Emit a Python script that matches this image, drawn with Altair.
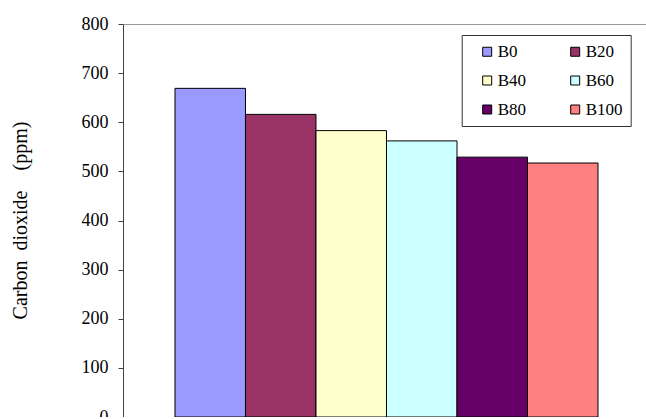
import altair as alt
import pandas as pd

categories = ["B0", "B20", "B40", "B60", "B80", "B100"]
values = [669, 616, 583, 562, 529, 517]
colors = ["#9999FF", "#993366", "#FFFFCC", "#CCFFFF", "#660066", "#FF8080"]
y_ticks = [0, 100, 200, 300, 400, 500, 600, 700, 800]
y_title = "Carbon\u00a0\u00a0dioxide\u00a0\u00a0\u00a0\u00a0(ppm)"

df = pd.DataFrame({"blend": categories, "co2": values})

FONT = "Liberation Serif"

x_scale = alt.Scale(paddingInner=0, paddingOuter=0.709, align=0.52, round=False)

y_enc = alt.Y(
    "co2:Q",
    scale=alt.Scale(domain=[0, 800], nice=False),
    axis=alt.Axis(
        values=y_ticks, grid=False, title=y_title,
        domainColor="#404040", domainWidth=1,
        tickColor="#404040", tickSize=5, tickWidth=1,
        labelFont=FONT, labelFontSize=18, labelColor="#000000", labelPadding=10,
        titleFont=FONT, titleFontSize=20, titleFontWeight="normal", titleColor="#000000",
        titleAngle=-90, titleX=-103, titleY=196, titleAlign="center", titleBaseline="middle",
    ),
)

base = alt.Chart(df)

bars = base.mark_bar(stroke="#000000", strokeWidth=1).encode(
    x=alt.X(
        "blend:N",
        sort=categories,
        scale=x_scale,
        axis=alt.Axis(labels=False, ticks=False, title=None,
                      domainColor="#404040", domainWidth=1),
    ),
    y=y_enc,
    color=alt.Color(
        "blend:N",
        sort=categories,
        scale=alt.Scale(domain=categories, range=colors),
        legend=alt.Legend(
            title=None, orient="none", legendX=338.7, legendY=11,
            columns=2, direction="horizontal",
            symbolType="square", symbolSize=81, symbolStrokeColor="#000000",
            symbolStrokeWidth=1, symbolOpacity=1,
            labelFont=FONT, labelFontSize=17, labelColor="#000000", labelOffset=2,
            labelLimit=200,
            strokeColor="#333333", fillColor="#FFFFFF", padding=8,
            symbolOffset=9, columnPadding=31, rowPadding=11,
        ),
    ),
)

top_border = base.mark_bar(opacity=0).encode(
    x=alt.X(
        "blend:N",
        sort=categories,
        scale=x_scale,
        axis=alt.Axis(orient="top", labels=False, ticks=False, title=None,
                      domainColor="#999999", domainWidth=1),
    ),
    y=y_enc,
)

chart = alt.layer(bars, top_border).resolve_axis(x="independent").properties(
    width=523,
    height=393,
    autosize=alt.AutoSizeParams(type="none"),
    padding={"left": 123, "top": 24, "right": 0, "bottom": 0},
).configure_view(
    stroke=None
).configure(background="#FFFFFF")

chart.save("out.html", embed_options={"renderer": "svg", "actions": False})
